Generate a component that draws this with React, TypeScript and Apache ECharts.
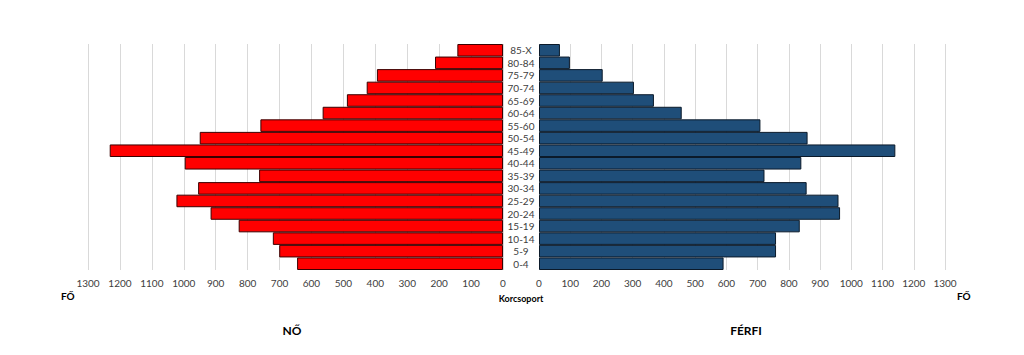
import React, { useEffect, useRef } from "react";
import * as echarts from "echarts";

const categories = ["0-4", "5-9", "10-14", "15-19", "20-24", "25-29", "30-34", "35-39", "40-44", "45-49", "50-54", "55-60", "60-64", "65-69", "70-74", "75-79", "80-84", "85-X"];
const women = [645, 701, 721, 828, 916, 1023, 955, 764, 997, 1232, 950, 760, 565, 489, 427, 395, 213, 143];
const men = [591, 759, 759, 835, 964, 959, 857, 722, 840, 1141, 860, 709, 457, 368, 304, 204, 99, 67];
const axisMax = 1300;
const axisStep = 100;

const FONT = "Lato";
const TEXT = "#404040";

export default function App() {
  const ref = useRef<HTMLDivElement>(null);
  useEffect(() => {
    if (!ref.current) return;
    const chart = echarts.init(ref.current, null, { renderer: "svg" });
    const xAxisCommon = {
      type: "value",
      min: 0,
      max: axisMax,
      interval: axisStep,
      axisLine: { show: false },
      axisTick: { show: false },
      axisLabel: { color: TEXT, fontFamily: FONT, fontSize: 10, margin: 8, formatter: (v: number) => String(v) },
      splitLine: { show: true, lineStyle: { color: "#d9d9d9", width: 1 } },
    };
    chart.setOption({
      animation: false,
      backgroundColor: "#ffffff",
      grid: [
        { left: 88, width: 415, top: 44, height: 226 },
        { left: 539, width: 406, top: 44, height: 226 },
      ],
      xAxis: [
        { ...xAxisCommon, gridIndex: 0, inverse: true },
        { ...xAxisCommon, gridIndex: 1 },
      ],
      yAxis: [
        {
          type: "category",
          gridIndex: 0,
          data: categories,
          show: false,
        },
        {
          type: "category",
          gridIndex: 1,
          data: categories,
          axisLine: { show: false },
          axisTick: { show: false },
          axisLabel: { color: TEXT, fontFamily: FONT, fontSize: 10, align: "center", margin: 18, interval: 0 },
        },
      ],
      series: [
        {
          type: "bar",
          name: "NŐ",
          xAxisIndex: 0,
          yAxisIndex: 0,
          data: women,
          barCategoryGap: "0%",
          itemStyle: { color: "#ff0000", borderColor: "#3a0000", borderWidth: 1 },
        },
        {
          type: "bar",
          name: "FÉRFI",
          xAxisIndex: 1,
          yAxisIndex: 1,
          data: men,
          barCategoryGap: "0%",
          itemStyle: { color: "#1f4e79", borderColor: "#0b1a2a", borderWidth: 1 },
        },
      ],
      graphic: [
        { type: "text", left: 61, top: 291, style: { text: "FŐ", font: `bold 10px ${FONT}`, fill: "#000" } },
        { type: "text", left: 957, top: 291, style: { text: "FŐ", font: `bold 10px ${FONT}`, fill: "#000" } },
        { type: "text", x: 521, y: 298, style: { text: "Korcsoport", font: `bold 9px ${FONT}`, fill: "#000", align: "center", verticalAlign: "middle" } },
        { type: "text", x: 292, y: 330, style: { text: "NŐ", font: `bold 12px ${FONT}`, fill: "#000", align: "center", verticalAlign: "middle" } },
        { type: "text", x: 746, y: 330, style: { text: "FÉRFI", font: `bold 12px ${FONT}`, fill: "#000", align: "center", verticalAlign: "middle" } },
      ],
    });
    return () => chart.dispose();
  }, []);
  return <div ref={ref} style={{ position: "fixed", left: 0, top: 0, width: 1024, height: 355 }} />;
}
